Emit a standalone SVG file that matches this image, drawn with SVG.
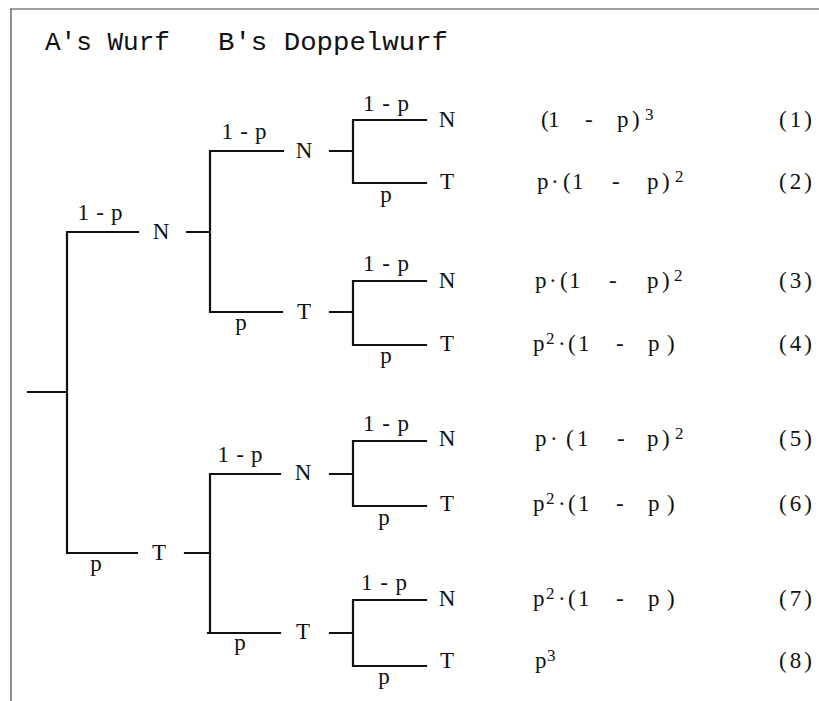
<svg xmlns="http://www.w3.org/2000/svg" width="819" height="701" viewBox="0 0 819 701">
<style>
.ln{stroke:#111;stroke-width:2.2;fill:none;stroke-linecap:square}
.bd{stroke:#444;stroke-width:1.2;fill:none}
.t{font-family:"Liberation Serif","Times New Roman",serif;font-size:23px;fill:#111;text-anchor:middle}
.f{font-family:"Liberation Serif","Times New Roman",serif;font-size:23px;fill:#111}
.n{font-family:"Liberation Serif","Times New Roman",serif;font-size:23px;fill:#111;letter-spacing:3px}
.s{font-size:17px}
.h{font-family:"Liberation Mono","Courier New",monospace;font-size:26px;fill:#111}
</style>
<rect width="819" height="701" fill="#fff"/>
<g id="frame">
<path class="bd" d="M10 9H819M11 9V701"/>
</g>
<g id="title">
<text class="h" x="45" y="50" textLength="125" lengthAdjust="spacingAndGlyphs">A's Wurf</text>
<text class="h" x="218" y="50" textLength="230" lengthAdjust="spacingAndGlyphs">B's Doppelwurf</text>
</g>
<g id="connectors">
<path class="ln" d="M28 392H67M67 232V553M67 232H138M67 553H137"/>
<path class="ln" d="M187 232H210M210 151V312M210 151H283M210 312H282"/>
<path class="ln" d="M185 553H210M210 474V633M210 474H280M208 633H280"/>
<path class="ln" d="M330 151H353M353 120V183M353 120H426M353 183H426"/>
<path class="ln" d="M330 312H353M353 281V345M353 281H426M353 345H426"/>
<path class="ln" d="M330 474H353M353 441V506M353 441H426M353 506H426"/>
<path class="ln" d="M330 633H353M353 600V666M353 600H426M353 666H426"/>
</g>
<g id="edge-labels">
<text class="t" x="100" y="220" textLength="45" lengthAdjust="spacing">1-p</text>
<text class="t" x="96" y="571">p</text>
<text class="t" x="244" y="139" textLength="45" lengthAdjust="spacing">1-p</text>
<text class="t" x="241" y="330">p</text>
<text class="t" x="240" y="462" textLength="45" lengthAdjust="spacing">1-p</text>
<text class="t" x="240" y="650">p</text>
<text class="t" x="386" y="111" textLength="46" lengthAdjust="spacing">1-p</text>
<text class="t" x="386" y="202">p</text>
<text class="t" x="386" y="271" textLength="46" lengthAdjust="spacing">1-p</text>
<text class="t" x="386" y="363">p</text>
<text class="t" x="386" y="431" textLength="46" lengthAdjust="spacing">1-p</text>
<text class="t" x="384" y="525">p</text>
<text class="t" x="384" y="590" textLength="46" lengthAdjust="spacing">1-p</text>
<text class="t" x="384" y="684">p</text>
</g>
<g id="node-A-N"><text class="t" x="161" y="239">N</text></g>
<g id="node-A-T"><text class="t" x="159" y="560">T</text></g>
<g id="node-NN"><text class="t" x="304" y="158">N</text></g>
<g id="node-NT"><text class="t" x="304" y="319">T</text></g>
<g id="node-TN"><text class="t" x="303" y="480">N</text></g>
<g id="node-TT"><text class="t" x="303" y="639">T</text></g>
<g id="leaf-1"><text class="t" x="447" y="127">N</text><text class="f" y="127"><tspan x="541">(</tspan><tspan x="548">1</tspan><tspan x="585">-</tspan><tspan x="617">p</tspan><tspan x="632">)</tspan><tspan x="645" class="s" dy="-7">3</tspan></text><text class="n" x="779" y="127">(1)</text></g>
<g id="leaf-2"><text class="t" x="447" y="189">T</text><text class="f" y="189"><tspan x="537">p</tspan><tspan x="551">·</tspan><tspan x="563">(</tspan><tspan x="572">1</tspan><tspan x="612">-</tspan><tspan x="647">p</tspan><tspan x="662">)</tspan><tspan x="675" class="s" dy="-7">2</tspan></text><text class="n" x="779" y="189">(2)</text></g>
<g id="leaf-3"><text class="t" x="447" y="288">N</text><text class="f" y="288"><tspan x="535">p</tspan><tspan x="549">·</tspan><tspan x="560">(</tspan><tspan x="569">1</tspan><tspan x="609">-</tspan><tspan x="647">p</tspan><tspan x="662">)</tspan><tspan x="674" class="s" dy="-7">2</tspan></text><text class="n" x="779" y="288">(3)</text></g>
<g id="leaf-4"><text class="t" x="447" y="351">T</text><text class="f" y="351"><tspan x="533">p</tspan><tspan x="546" class="s" dy="-7">2</tspan><tspan x="558" dy="7">·</tspan><tspan x="568">(</tspan><tspan x="578">1</tspan><tspan x="616">-</tspan><tspan x="648">p</tspan><tspan x="667">)</tspan></text><text class="n" x="779" y="351">(4)</text></g>
<g id="leaf-5"><text class="t" x="447" y="446">N</text><text class="f" y="446"><tspan x="535">p</tspan><tspan x="550">·</tspan><tspan x="566">(</tspan><tspan x="577">1</tspan><tspan x="617">-</tspan><tspan x="647">p</tspan><tspan x="662">)</tspan><tspan x="675" class="s" dy="-7">2</tspan></text><text class="n" x="779" y="446">(5)</text></g>
<g id="leaf-6"><text class="t" x="447" y="511">T</text><text class="f" y="511"><tspan x="533">p</tspan><tspan x="546" class="s" dy="-7">2</tspan><tspan x="558" dy="7">·</tspan><tspan x="568">(</tspan><tspan x="578">1</tspan><tspan x="616">-</tspan><tspan x="648">p</tspan><tspan x="667">)</tspan></text><text class="n" x="779" y="511">(6)</text></g>
<g id="leaf-7"><text class="t" x="447" y="606">N</text><text class="f" y="606"><tspan x="533">p</tspan><tspan x="546" class="s" dy="-7">2</tspan><tspan x="558" dy="7">·</tspan><tspan x="568">(</tspan><tspan x="578">1</tspan><tspan x="616">-</tspan><tspan x="648">p</tspan><tspan x="667">)</tspan></text><text class="n" x="779" y="606">(7)</text></g>
<g id="leaf-8"><text class="t" x="447" y="668">T</text><text class="f" y="668"><tspan x="535">p</tspan><tspan x="547" class="s" dy="-7">3</tspan></text><text class="n" x="779" y="668">(8)</text></g>
</svg>
